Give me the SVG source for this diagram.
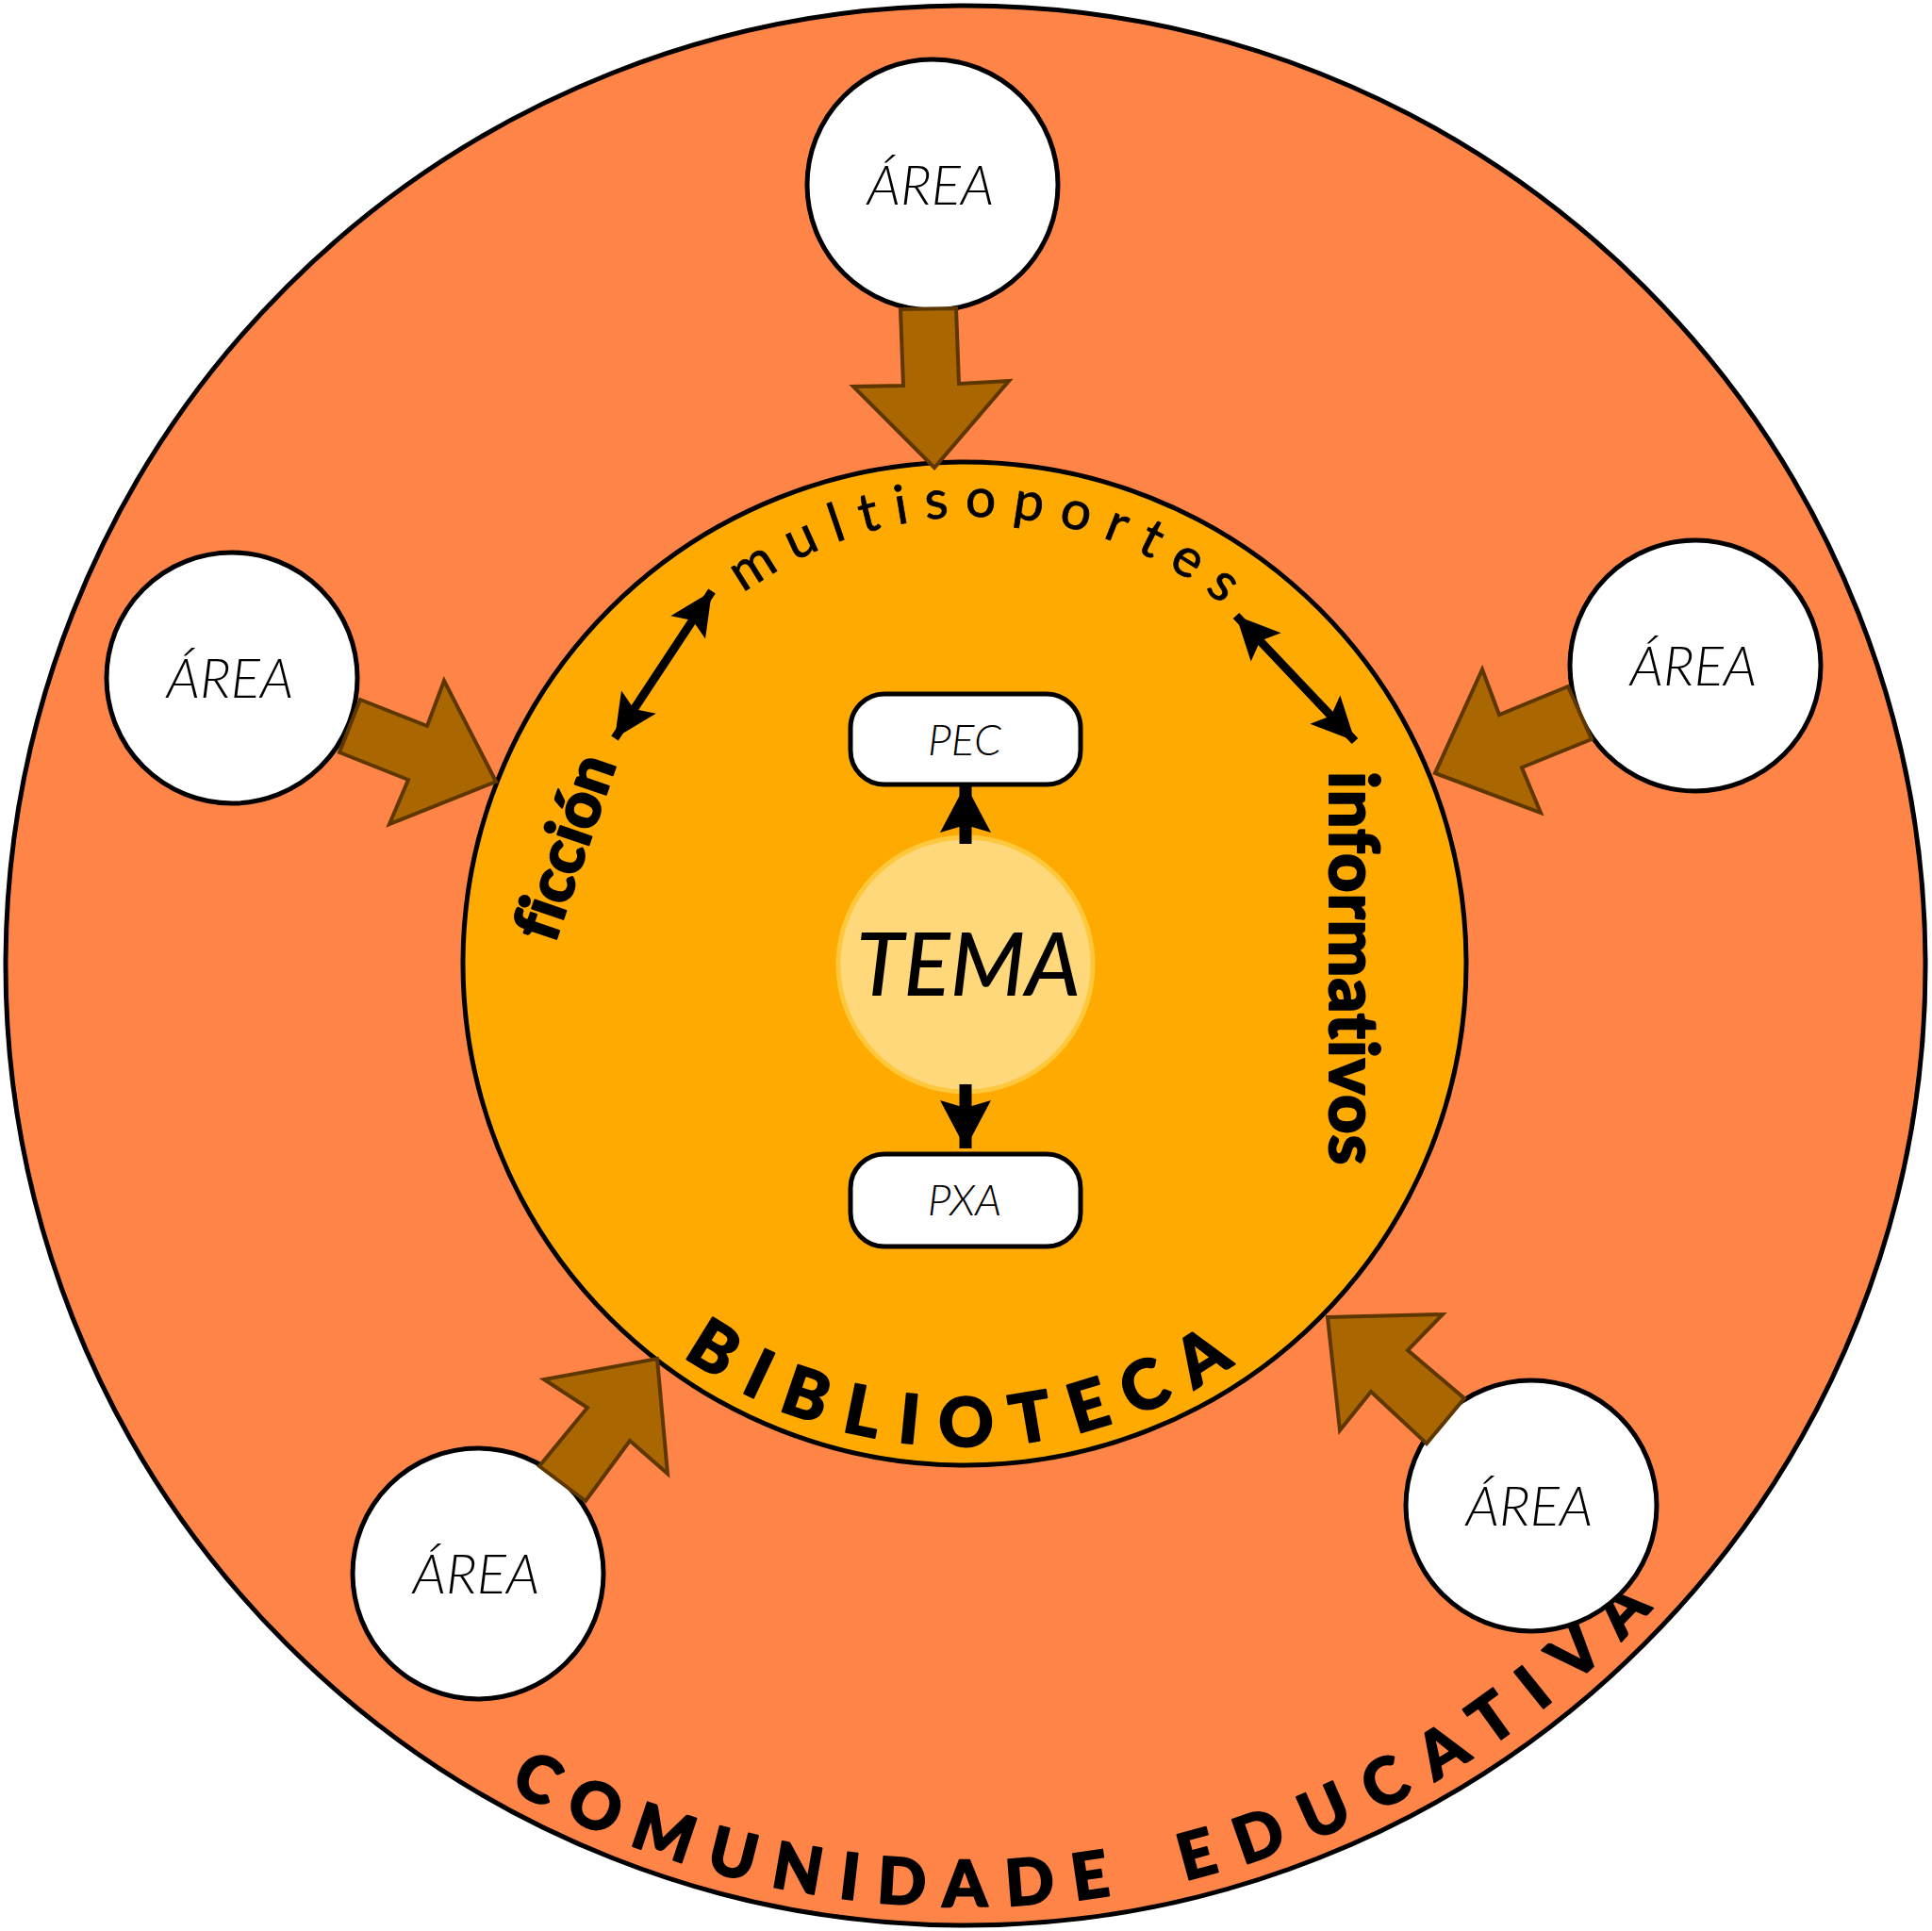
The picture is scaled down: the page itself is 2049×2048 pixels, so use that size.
<svg xmlns="http://www.w3.org/2000/svg" width="2049" height="2048" viewBox="0 0 2049 2048">
<style>
.area{fill:#fff;stroke:#000;stroke-width:5}
.arealbl{font-family:Lato,"Open Sans",sans-serif;font-weight:300;font-style:italic;font-size:58px;fill:#000;text-anchor:middle}
.barrow{fill:#AA6600;stroke:#5E3700;stroke-width:4;stroke-linejoin:miter}
.box{fill:#fff;stroke:#000;stroke-width:5}
.boxlbl{font-family:Lato,"Open Sans",sans-serif;font-weight:300;font-style:italic;font-size:46px;fill:#000;text-anchor:middle}
.heavy{font-family:Lato,"Open Sans",sans-serif;font-weight:900;fill:#000;stroke:#000;stroke-width:2;stroke-linejoin:round;font-variant-ligatures:none}
.conn{stroke:#000;fill:none}
</style>
<defs>
<marker id="ah" markerUnits="userSpaceOnUse" markerWidth="60" markerHeight="60" viewBox="-50 -30 60 60" refX="0" refY="0" orient="auto-start-reverse">
<path d="M0,0 L-46,-22 L-37,0 L-46,22 Z" fill="#000"/>
</marker>
<marker id="ah2" markerUnits="userSpaceOnUse" markerWidth="70" markerHeight="70" viewBox="-60 -35 70 70" refX="0" refY="0" orient="auto">
<path d="M0,0 L-51,-27 L-43,0 L-51,27 Z" fill="#000"/>
</marker>
<path id="arcTop" d="M 621,962 A 414,414 0 0 1 1449,962"/>
<path id="arcBib" d="M 511,1022 A 512,512 0 0 0 1535,1022"/>
<path id="arcCom" d="M 26,1024 A 998,998 0 0 0 2022,1024"/>
</defs>
<rect width="2049" height="2048" fill="#fff"/>
<g id="comunidade">
<circle cx="1024" cy="1024" r="1018" fill="#FF8447" stroke="#000" stroke-width="5"/>
<text class="heavy" font-size="68" letter-spacing="20.5"><textPath href="#arcCom" startOffset="1062">COMUNIDADE</textPath></text>
<text class="heavy" font-size="68" letter-spacing="25"><textPath href="#arcCom" startOffset="1802">EDUCATIVA</textPath></text>
</g>
<g id="biblioteca">
<circle cx="1023" cy="1022" r="532" fill="#FFAA00" stroke="#000" stroke-width="5"/>
<text class="heavy" font-size="72" letter-spacing="23" text-anchor="middle"><textPath href="#arcBib" startOffset="808">BIBLIOTECA</textPath></text>
<text font-family="Lato,'Open Sans',sans-serif" font-size="57" letter-spacing="17" text-anchor="middle" fill="#000" stroke="#000" stroke-width="0.8"><textPath href="#arcTop" startOffset="668">multisoportes</textPath></text>
<text class="heavy" font-size="68" transform="translate(588,1002) rotate(-71)">ficción</text>
<text class="heavy" font-size="72" letter-spacing="1" transform="translate(1410,818) rotate(90)">informativos</text>
</g>
<g id="tema">
<circle cx="1024" cy="1023" r="135" fill="#FED87A" stroke="#FFC83C" stroke-width="5"/>
<text x="1027" y="1056" font-family="Lato,'Open Sans',sans-serif" font-weight="500" font-style="italic" font-size="92" text-anchor="middle" fill="#000">TEMA</text>
</g>
<g id="pec">
<rect class="box" x="902" y="736" width="244" height="96" rx="36"/>
<text class="boxlbl" x="1023" y="801">PEC</text>
</g>
<g id="pxa">
<rect class="box" x="902" y="1224" width="244" height="98" rx="36"/>
<text class="boxlbl" x="1023" y="1289">PXA</text>
</g>
<g id="area-top">
<circle class="area" cx="989" cy="196" r="133"/>
<text class="arealbl" x="987" y="217">ÁREA</text>
</g>
<g id="area-left">
<circle class="area" cx="246" cy="719" r="133"/>
<text class="arealbl" x="244" y="740">ÁREA</text>
</g>
<g id="area-right">
<circle class="area" cx="1798" cy="706" r="133"/>
<text class="arealbl" x="1796" y="727">ÁREA</text>
</g>
<g id="area-bottom-left">
<circle class="area" cx="507" cy="1669" r="133"/>
<text class="arealbl" x="505" y="1690">ÁREA</text>
</g>
<g id="area-bottom-right">
<circle class="area" cx="1624" cy="1597" r="133"/>
<text class="arealbl" x="1622" y="1618">ÁREA</text>
</g>
<g id="connectors">
<polygon class="barrow" points="955,328 1014,327 1017,407 1070,404 991,496 905,410 958,409"/>
<polygon class="barrow" points="382,742 453,770 471,722 526,829 413,874 433,827 360,798"/>
<polygon class="barrow" points="1663,728 1590,758 1572,710 1522,820 1634,862 1614,814 1688,784"/>
<polygon class="barrow" points="572,1555 623,1493 577,1463 697,1441 708,1563 668,1528 621,1592"/>
<polygon class="barrow" points="1408,1397 1530,1394 1493,1432 1553,1483 1513,1531 1454,1476 1421,1517"/>
<line class="conn" x1="652" y1="783" x2="755" y2="627" stroke-width="9" marker-start="url(#ah)" marker-end="url(#ah)"/>
<line class="conn" x1="1311" y1="653" x2="1437" y2="786" stroke-width="9" marker-start="url(#ah)" marker-end="url(#ah)"/>
<line class="conn" x1="1024" y1="895" x2="1024" y2="832" stroke-width="13" marker-end="url(#ah2)"/>
<line class="conn" x1="1024" y1="1150" x2="1024" y2="1218" stroke-width="13" marker-end="url(#ah2)"/>
</g>
</svg>
